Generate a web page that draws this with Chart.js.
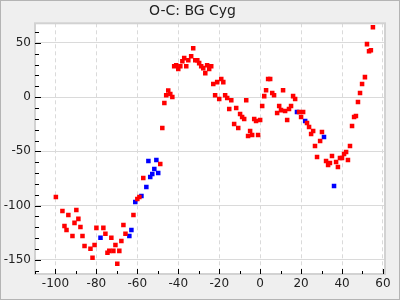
<!DOCTYPE html>
<html>
<head>
<meta charset="utf-8">
<script src="https://cdn.jsdelivr.net/npm/chart.js@4/dist/chart.umd.min.js"></script>
<style>
  body { margin: 0; background: #efefef; }
  #wrap { width: 400px; height: 300px; }
</style>
</head>
<body>
<div id="wrap"><canvas id="ocChart" width="400" height="300"></canvas></div>
<script>
const chartTitle = 'O-C: BG Cyg';

// red points
const redX = [-99.8, -96.6, -95.6, -94.6, -93.7, -91.7, -90.7, -89.8, -88.8, -87.8, -86.8, -85.8,
  -82.9, -81.9, -80.9, -80.0, -76.6, -75.6, -74.6, -73.7, -72.7, -71.7, -70.7, -69.8, -68.8, -67.8,
  -66.8, -65.8, -61.9, -60.0, -59.0, -57.1, -48.8, -47.8, -46.8, -45.9, -44.9, -43.9, -42.9, -42.0,
  -41.0, -40.0, -39.0, -38.0, -37.1, -36.1, -35.1, -33.7, -32.7, -31.7, -30.7, -29.8, -28.8, -27.8,
  -26.8, -25.9, -24.9, -23.9, -22.9, -22.0, -21.0, -20.0, -19.0, -18.0, -17.1, -16.1, -15.1, -14.1,
  -12.7, -11.7, -10.7, -9.8, -8.8, -7.8, -6.8, -5.9, -4.9, -3.9, -2.9, -2.0, -1.0, 0, 1.0, 2.0, 2.9,
  3.9, 4.9, 5.9, 6.8, 8.3, 9.3, 10.2, 11.2, 12.2, 13.2, 14.1, 15.1, 16.1, 17.1, 19.0, 20.0, 21.0,
  22.9, 23.9, 24.9, 25.9, 26.8, 27.8, 29.3, 30.2, 32.2, 33.2, 34.1, 35.1, 37.1, 38.0, 39.0, 40.0,
  41.0, 42.0, 42.9, 43.9, 44.9, 45.9, 46.8, 47.8, 48.8, 49.8, 51.2, 52.2, 53.2, 54.1, 55.1];
const redY = [-92.0, -104.9, -118.7, -122.4, -108.6, -127.9, -115.9, -104.0, -112.2, -119.6, -127.9, -137.1,
  -139.8, -148.1, -136.2, -120.5, -120.5, -126.0, -143.5, -141.7, -129.7, -141.7, -136.2, -153.6, -141.7, -132.5,
  -117.8, -126.0, -108.6, -93.8, -92.0, -74.5, -61.6, -28.5, -5.5, 1.8, 6.1, 2.8, 0, 28.5,
  29.4, 25.8, 28.5, 33.1, 35.9, 28.5, 34.0, 37.7, 45.1, 34.0, 34.0, 31.3, 28.5, 26.7,
  22.1, 29.4, 25.8, 28.5, 12.0, 1.8, 13.8, -1.8, 16.6, 13.8, 1.8, -0.9, -11.0, -2.8,
  -24.8, -10.1, -28.5, -15.6, -18.4, -20.2, -2.8, -35.9, -31.3, -35.0, -20.2, -22.1, -35.0, -21.2, -8.3, 0.9, 6.4,
  16.6, 16.6, 3.7, 1.8, -14.7, -8.3, -12.0, 6.4, -12.9, -21.2, -11.0, -8.3, 0.9, -1.8, -13.8, -18.4, -13.8,
  -23.9, -27.6, -34.0, -31.3, -45.1, -55.2, -40.5, -32.2, -58.9, -62.6, -60.7, -54.3, -59.8, -64.4, -56.1, -56.1,
  -52.4, -50.6, -58.0, -45.1, -26.7, -18.4, -17.5, -4.6, 3.7, 12.0, 18.4, 48.8, 42.3, 43.2, 64.4];

// blue points
const blueX = [-78.0, -63.9, -62.9, -61.0, -58.0, -55.6, -54.6, -53.7, -52.7, -51.7, -50.7, -49.8,
  18.0, 22.0, 31.2, 36.1];
const blueY = [-129.7, -127.9, -122.4, -96.6, -91.1, -82.8, -58.9, -73.6, -70.8, -66.2, -58.0, -69.9,
  -13.8, -22.1, -36.8, -81.9];

const xMin = -110, xMax = 61;
const yMin = -163, yMax = 68;

function toPoints(xs, ys) {
  return xs.map((x, i) => ({ x: x, y: ys[i] }));
}

// background, frame and inward tick marks
const framePlugin = {
  id: 'frame',
  beforeDraw(chart) {
    const ctx = chart.ctx;
    const a = chart.chartArea;
    ctx.save();
    ctx.fillStyle = '#efefef';
    ctx.fillRect(0, 0, chart.width, chart.height);
    ctx.strokeStyle = '#b4b4b4';
    ctx.lineWidth = 1;
    ctx.strokeRect(0.5, 0.5, chart.width - 1, chart.height - 1);
    ctx.fillStyle = '#ffffff';
    ctx.fillRect(a.left, a.top, a.right - a.left, a.bottom - a.top);
    ctx.restore();
  },
  afterDraw(chart) {
    const ctx = chart.ctx;
    const a = chart.chartArea;
    const xs = chart.scales.x;
    const ys = chart.scales.y;
    ctx.save();
    ctx.strokeStyle = '#d2d2d2';
    ctx.lineWidth = 2;
    ctx.strokeRect(a.left, a.top, a.right - a.left, a.bottom - a.top);
    ctx.strokeStyle = '#000';
    ctx.lineWidth = 1;
    ctx.beginPath();
    ys.ticks.forEach(t => {
      if (t.value % 10 !== 0) return;
      const py = Math.round(ys.getPixelForValue(t.value)) + 0.5;
      const len = t.value % 50 === 0 ? 6 : 4;
      ctx.moveTo(a.left, py);
      ctx.lineTo(a.left + len, py);
    });
    xs.ticks.forEach(t => {
      if (t.value % 10 !== 0) return;
      const px = Math.round(xs.getPixelForValue(t.value)) + 0.5;
      const len = t.value % 20 === 0 ? 5 : 3;
      ctx.moveTo(px, a.bottom);
      ctx.lineTo(px, a.bottom - len);
    });
    ctx.stroke();
    ctx.restore();
  }
};

const ctx = document.getElementById('ocChart').getContext('2d');
new Chart(ctx, {
  type: 'scatter',
  data: {
    datasets: [{
      label: 'red',
      data: toPoints(redX, redY),
      backgroundColor: '#ff0000',
      pointStyle: 'rect',
      pointRadius: 3.2,
      borderWidth: 0
    }, {
      label: 'blue',
      data: toPoints(blueX, blueY),
      backgroundColor: '#0000ff',
      pointStyle: 'rect',
      pointRadius: 3.2,
      borderWidth: 0
    }]
  },
  options: {
    responsive: false,
    animation: false,
    layout: { padding: { right: 15, left: 0, bottom: 0, top: 0 } },
    plugins: {
      legend: { display: false },
      tooltip: { enabled: false },
      title: {
        display: true,
        text: chartTitle,
        color: '#222',
        font: { family: 'DejaVu Sans', size: 14, weight: 'normal' },
        padding: { top: 3, bottom: 3.5 }
      }
    },
    scales: {
      x: {
        type: 'linear',
        min: xMin,
        max: xMax,
        afterFit: s => { s.height = 26; },
        border: { display: false, dash: [4, 3] },
        grid: {
          drawTicks: false,
          lineWidth: 1,
          color: c => (c.tick && c.tick.value % 20 === 0) ? '#dadada' : 'rgba(0,0,0,0)'
        },
        ticks: {
          stepSize: 10,
          includeBounds: false,
          autoSkip: false,
          maxRotation: 0,
          padding: 3,
          color: '#222',
          font: { family: 'DejaVu Sans', size: 12 },
          callback: v => v % 20 === 0 ? v : ''
        }
      },
      y: {
        type: 'linear',
        min: yMin,
        max: yMax,
        afterFit: s => { s.width = 35; },
        border: { display: false },
        grid: {
          drawTicks: false,
          lineWidth: 1,
          color: c => (c.tick && c.tick.value % 50 === 0) ? '#dadada' : 'rgba(0,0,0,0)'
        },
        ticks: {
          stepSize: 10,
          includeBounds: false,
          autoSkip: false,
          padding: 4,
          color: '#222',
          font: { family: 'DejaVu Sans', size: 12 },
          callback: v => v % 50 === 0 ? v : ''
        }
      }
    }
  },
  plugins: [framePlugin]
});
</script>
</body>
</html>
